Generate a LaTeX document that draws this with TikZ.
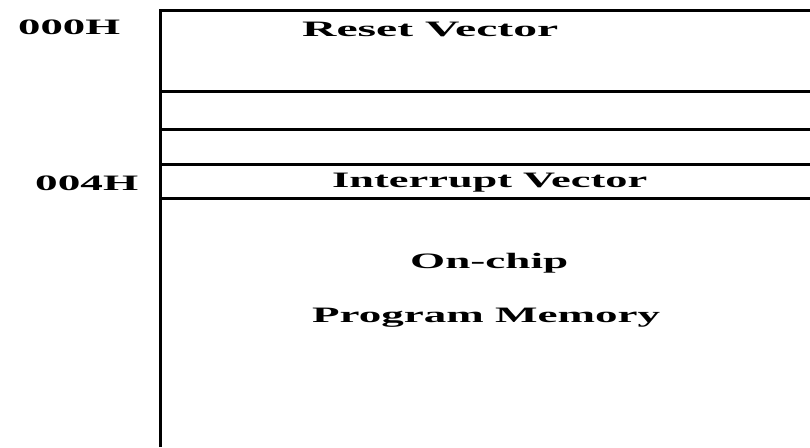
\documentclass[tikz,border=0pt]{standalone}
\usepackage{fontspec}
\setmainfont{Liberation Serif}
\newcommand{\wtxt}[2]{\resizebox{#1}{\height}{#2}}
\begin{document}
\begin{tikzpicture}[x=1pt,y=-1pt,
  lbl/.style={anchor=base west,inner sep=0pt,font=\fontsize{22}{26}\selectfont\bfseries},
  rule/.style={line width=3pt}]
\useasboundingbox (0,0) rectangle (810,447);
\fill[white] (0,0) rectangle (810,447);
% frame
\draw[rule] (160,447) -- (160,10.7) -- (812,10.7);
\draw[rule] (160,91) -- (812,91);
\draw[rule] (160,129.5) -- (812,129.5);
\draw[rule] (160,164.5) -- (812,164.5);
\draw[rule] (160,198.5) -- (812,198.5);
% labels
\node[lbl] (a0) at (18,34) {\wtxt{102pt}{000H}};
\node[lbl] (a4) at (35,190) {\wtxt{103pt}{004H}};
\node[lbl] (rv) at (302,36.5) {\wtxt{256pt}{Reset Vector}};
\node[lbl] (iv) at (332,187) {\wtxt{315pt}{Interrupt Vector}};
\node[lbl] (oc) at (410,268) {\wtxt{158pt}{On-chip}};
\node[lbl] (pm) at (312,322) {\wtxt{348pt}{Program Memory}};
\end{tikzpicture}
\end{document}
